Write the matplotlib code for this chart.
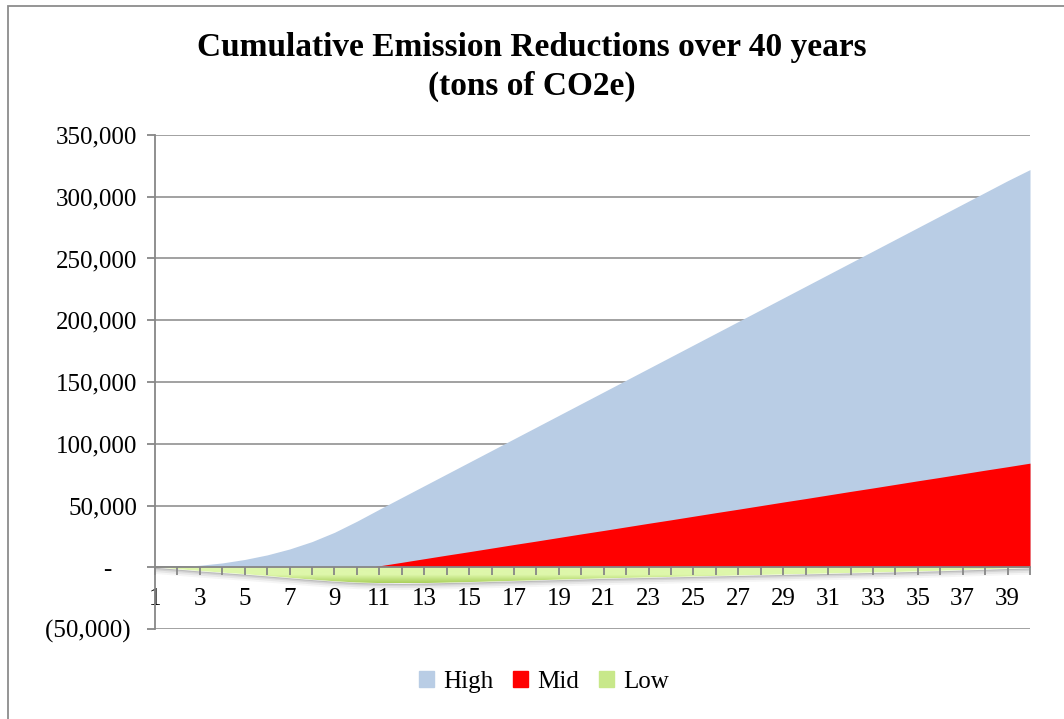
import matplotlib.pyplot as plt
import numpy as np
from matplotlib.colors import LinearSegmentedColormap
from matplotlib.patches import Rectangle

plt.rcParams['font.family'] = ['Liberation Serif', 'DejaVu Serif']

# Data (tons of CO2e), years 1..40
years = np.arange(1, 41)
high = [0, 500, 1600, 3500, 6300, 10000, 14800, 20800, 28300, 37300,
        47000, 56500, 66000, 75500, 85000, 94500, 104000, 113500, 123000, 132500,
        142000, 151500, 161000, 170500, 180000, 189500, 199000, 208500, 218000, 227500,
        237000, 246500, 256000, 265500, 275000, 284500, 294000, 303500, 313000, 322000]
mid = [0, -300, -700, -1000, -1300, -1600, -1800, -2000, -2000, -1700,
       1150, 4000, 6900, 9800, 12600, 15500, 18400, 21200, 24100, 27000,
       29800, 32700, 35600, 38400, 41300, 44200, 47000, 49900, 52800, 55600,
       58500, 61400, 64200, 67100, 70000, 72800, 75700, 78600, 81400, 84300]
low = [0, -1500, -3000, -4300, -5600, -7000, -8500, -10000, -11300, -12300,
       -12800, -13000, -12800, -12400, -12000, -11500, -11000, -10500, -10000, -9500,
       -9000, -8600, -8200, -7800, -7400, -7000, -6600, -6200, -5800, -5400,
       -5000, -4600, -4200, -3800, -3300, -2800, -2200, -1600, -1000, -500]
series_names = ['High', 'Mid', 'Low']
yticks = [-50000, 0, 50000, 100000, 150000, 200000, 250000, 300000, 350000]

high_color = '#b9cde5'
mid_color = '#ff0000'
low_top, low_bottom = '#def7ab', '#a9d05a'
grid_color = '#878787'

W, H = 1064, 719
fig = plt.figure(figsize=(W / 100, H / 100), dpi=100)
ax = fig.add_axes([155 / W, 1 - 629 / H, (1030 - 155) / W, (629 - 135) / H])

low_arr = np.array(low, dtype=float)

# areas (overlapping, not stacked)
ax.fill_between(years, high, 0, color=high_color, lw=0, zorder=1, label='High')
ax.fill_between(years, mid, 0, color=mid_color, lw=0, zorder=1.2, label='Mid')

# soft shadow under the Low area
for k, a in [(5000, 0.06), (3500, 0.09), (2000, 0.13), (900, 0.18)]:
    ax.fill_between(years, low_arr - k, low_arr, color='#555555', alpha=a, lw=0, zorder=1.4)

# Low area with vertical gradient
poly = ax.fill_between(years, low, 0, color='none', lw=0, zorder=1.5)
cmap = LinearSegmentedColormap.from_list('lowgrad', [low_top, low_top, low_bottom])
grad = np.linspace(0, 1, 256).reshape(-1, 1)
im = ax.imshow(grad, extent=[1, 40, low_arr.min(), 0], aspect='auto', cmap=cmap,
               origin='upper', zorder=1.6)
im.set_clip_path(poly.get_paths()[0], transform=ax.transData)

# gridlines behind the areas
for yv in yticks:
    ax.axhline(yv, color=grid_color, lw=1.1, zorder=0.5)

ax.set_xlim(1, 40)
ax.set_ylim(-50000, 350000)

# axes styling
for s in ['top', 'right']:
    ax.spines[s].set_visible(False)
ax.spines['left'].set_color(grid_color)
ax.spines['left'].set_linewidth(1.3)
ax.spines['bottom'].set_position(('data', 0))
ax.spines['bottom'].set_color(grid_color)
ax.spines['bottom'].set_linewidth(1.3)
ax.spines['left'].set_zorder(3)
ax.spines['bottom'].set_zorder(3)


def ylab(v):
    if v == 0:
        return '-    '
    if v < 0:
        return '({:,.0f}) '.format(-v)
    return '{:,.0f}'.format(v)


ax.set_yticks(yticks)
ax.set_yticklabels([ylab(v) for v in yticks])
ax.set_xticks(years)
ax.set_xticklabels([str(y) if y % 2 == 1 else '' for y in years])
ax.tick_params(axis='y', direction='out', length=6, width=1.3, color=grid_color,
               pad=7, labelsize=18)
ax.tick_params(axis='x', direction='out', length=6, width=1.3, color=grid_color,
               pad=9, labelsize=18)
ax.set_axisbelow(False)

# title
fig.text(0.5, 1 - 32 / H, 'Cumulative Emission Reductions over 40 years\n(tons of CO2e)',
         ha='center', va='top', fontsize=24, fontweight='bold', linespacing=1.32)

# legend
handles = [Rectangle((0, 0), 1, 1, color=high_color),
           Rectangle((0, 0), 1, 1, color=mid_color),
           Rectangle((0, 0), 1, 1, color='#c8e88a')]
fig.legend(handles, series_names, loc='center', bbox_to_anchor=(544 / W, 1 - 682 / H),
           ncol=3, frameon=False, fontsize=18, handlelength=0.6, handleheight=0.6,
           handletextpad=0.35, columnspacing=0.8)

# outer chart frame
fig.patches.append(Rectangle((8 / W, -0.1), 1.2, 1.1 - 6 / H, transform=fig.transFigure,
                             fill=False, edgecolor='#8c8c8c', lw=1.3))

fig.savefig('out.png', dpi=100)
